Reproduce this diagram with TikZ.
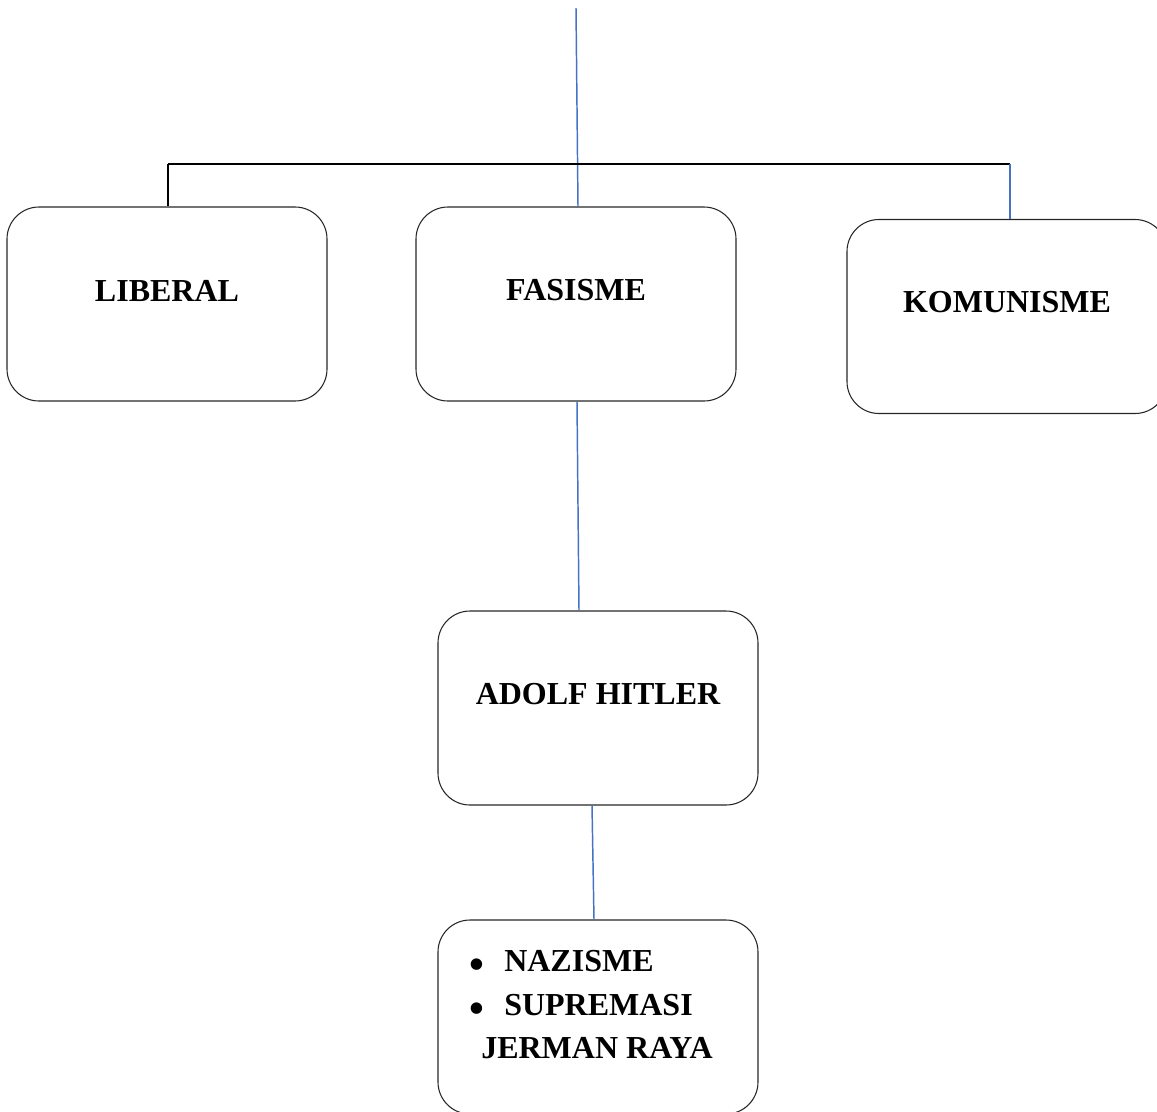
\documentclass[tikz,border=0pt]{standalone}
\usepackage{fontspec}
\setmainfont{Liberation Serif}
\begin{document}
\begin{tikzpicture}[x=0.75pt,y=-0.75pt,
  box/.style={draw=black!85,line width=0.8pt,rounded corners=24pt,minimum width=240pt,minimum height=145.5pt,inner sep=0pt},
  lbl/.style={inner sep=0pt,font=\fontsize{24}{28}\selectfont\bfseries},
  bul/.style={inner sep=0pt,anchor=base,font=\fontsize{36}{40}\selectfont},
  blueline/.style={draw={rgb,255:red,68;green,114;blue,196},line width=1.1pt},
  blackline/.style={draw=black,line width=1.1pt}]
\useasboundingbox (0,0) rectangle (1157,1111);
\clip (0,0) rectangle (1157,1111);
% boxes
\node[box] (lib) at (167,304) {};
\node[box] (fas) at (576,304) {};
\node[box] (kom) at (1007,316.5) {};
\node[box] (hit) at (598,708) {};
\node[box] (naz) at (598,1017) {};
% labels
\node[lbl] (tlib) at (167,291) {LIBERAL};
\node[lbl] (tfas) at (576,290) {FASISME};
\node[lbl] (tkom) at (1007,302) {KOMUNISME};
\node[lbl] (thit) at (598,694) {ADOLF HITLER};
\node[lbl,anchor=west] (t1) at (504,961) {NAZISME};
\node[lbl,anchor=west] (t2) at (504,1005) {SUPREMASI};
\node[lbl] (t3) at (597,1048) {JERMAN RAYA};
\node[bul] (b1) at (477,980) {\textbullet};
\node[bul] (b2) at (477,1024) {\textbullet};
% connectors
\coordinate (top) at (576,8);
\coordinate (hl) at (168,164);
\coordinate (hr) at (1010,164);
\draw[blueline] (top) -- ([xshift=1.5pt]fas.north);
\draw[blackline] (hl) -- (hr);
\draw[blackline] (hl) -- (hl |- lib.north);
\draw[blueline] (hr) -- (hr |- kom.north);
\draw[blueline] ([xshift=0.75pt]fas.south) -- ([xshift=-14.25pt]hit.north);
\draw[blueline] ([xshift=-4.5pt]hit.south) -- ([xshift=-3pt]naz.north);
\end{tikzpicture}
\end{document}
